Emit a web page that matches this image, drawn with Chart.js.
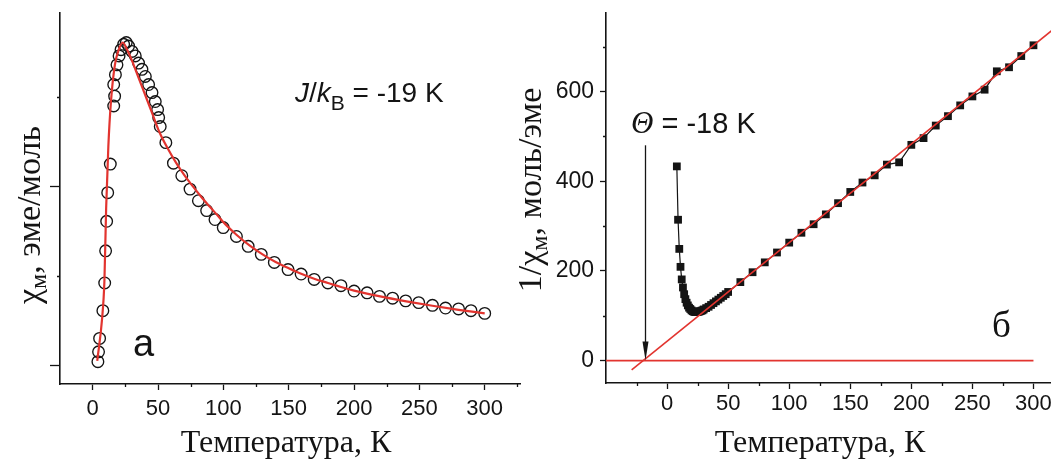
<!DOCTYPE html>
<html><head><meta charset="utf-8">
<script src="https://cdn.jsdelivr.net/npm/chart.js@4.4.1/dist/chart.umd.min.js"></script>
<style>
html,body{margin:0;padding:0;background:#fff;overflow:hidden;}
#wrap{position:relative;width:1051px;height:468px;overflow:hidden;background:#fff;}
#c1{position:absolute;left:0;top:0;width:540px;height:468px;}
#c2{position:absolute;left:500px;top:0;width:590px;height:468px;}
</style></head><body>
<div id="wrap"><canvas id="c1" width="540" height="468"></canvas><canvas id="c2" width="590" height="468"></canvas></div>
<script>
// ---------- Panel (а): chi_M vs T ----------
const chiT = [4.0, 4.5, 5.3, 7.8, 9.2, 9.9, 10.7, 11.5, 13.5, 16.1, 16.8, 16.1, 17.4, 18.6, 20.2, 21.7, 23.7, 25.7, 27.5, 30.1, 32.6, 35.1, 37.7, 40.3, 42.8, 45.4, 47.9, 49.7, 50.5, 51.7, 56, 61.8, 68.2, 74.5, 80.9, 87.2, 93.6, 99.9, 110, 119, 129, 139, 149.5, 159.5, 169.5, 180, 190, 200, 210, 219.5, 229.5, 239.5, 249.5, 260, 270, 280, 289.5, 300];
const chiV = [0.04, 0.15, 0.30, 0.61, 0.92, 1.28, 1.61, 1.93, 2.25, 2.90, 3.01, 3.14, 3.25, 3.36, 3.46, 3.53, 3.59, 3.61, 3.57, 3.51, 3.46, 3.38, 3.31, 3.23, 3.14, 3.05, 2.95, 2.86, 2.77, 2.67, 2.49, 2.26, 2.12, 1.97, 1.84, 1.73, 1.63, 1.54, 1.44, 1.33, 1.24, 1.15, 1.07, 1.02, 0.96, 0.92, 0.89, 0.83, 0.81, 0.77, 0.75, 0.72, 0.70, 0.67, 0.64, 0.63, 0.61, 0.58];
const fitT = [3.5, 7.2, 9.0, 10.3, 12.0, 14.0, 17.0, 20.0, 23.0, 26.0, 30.0, 35, 40, 45, 51.3, 58, 64, 70, 76.7, 83, 89.5, 95, 102, 110, 120, 130, 140, 150, 160, 170, 180, 190, 200, 220, 240, 260, 280, 300];
const fitV = [0.05, 0.52, 0.95, 1.75, 2.45, 2.95, 3.36, 3.53, 3.61, 3.54, 3.41, 3.22, 3.03, 2.84, 2.60, 2.41, 2.26, 2.13, 2.00, 1.885, 1.775, 1.685, 1.57, 1.46, 1.34, 1.24, 1.155, 1.085, 1.02, 0.965, 0.92, 0.875, 0.835, 0.77, 0.715, 0.665, 0.62, 0.58];
const xMajorA = [0, 50, 100, 150, 200, 250, 300];
const xMinorA = [25, 75, 125, 175, 225, 275, 325];
const yMajorA = [0, 2];
const yMinorA = [1, 3];

// ---------- Panel (б): 1/chi_M vs T ----------
const invT = [8, 9, 10, 11, 12, 13, 14, 15, 16, 17, 18, 19, 20, 21, 22, 23, 24, 25, 26, 27, 28, 29, 30, 32, 34, 36, 38, 40, 42, 44, 46, 48, 50, 60, 70, 80, 90, 100, 110, 120, 130, 140, 150, 160, 170, 180, 190, 200, 210, 220, 230, 240, 250, 260, 270, 280, 290, 300];
const invV = [433, 314, 249, 209, 181, 163, 148, 137, 129, 123, 118, 115, 112, 110, 109, 108, 108, 108, 109, 110, 111, 112, 114, 117, 120, 124, 128, 132, 136, 140, 144, 148, 153, 175, 197, 219, 241, 263, 285, 304, 326, 351, 376, 397, 413, 437, 442, 481, 496, 524, 545, 569, 589, 604, 645, 654, 679, 703];
const cwT = [-29, 325];
const cwV = [-20.9, 758];
const zeroT = [-50, 300];
const zeroV = [0, 0];
const theta = -18;
const arrowTopV = 480;
const xMajorB = [0, 50, 100, 150, 200, 250, 300];
const xMinorB = [-25, 25, 75, 125, 175, 225, 275, 325];
const yMajorB = [0, 200, 400, 600];
const yMinorB = [100, 300, 500, 700];

const RED = '#e2342f';
const INK = '#141414';
const SANS = '"Liberation Sans", Arial, sans-serif';
const SERIF = '"Liberation Serif", "Times New Roman", serif';

function pts(xs, ys) { return xs.map((x, i) => ({x: x, y: ys[i]})); }

function drawRich(ctx, parts, x, y, align, rot) {
  ctx.save();
  ctx.translate(x, y);
  if (rot) ctx.rotate(rot);
  let w = 0;
  for (const p of parts) { ctx.font = p.font; w += ctx.measureText(p.t).width; }
  let cx = align === 'center' ? -w / 2 : 0;
  ctx.textAlign = 'left';
  ctx.textBaseline = 'alphabetic';
  ctx.fillStyle = INK;
  for (const p of parts) { ctx.font = p.font; ctx.fillText(p.t, cx, p.dy || 0); cx += ctx.measureText(p.t).width; }
  ctx.restore();
}

function minorTicks(chart, id, vals, len) {
  const s = chart.scales[id], ctx = chart.ctx;
  ctx.save();
  ctx.strokeStyle = INK; ctx.lineWidth = 1.3;
  ctx.beginPath();
  for (const v of vals) {
    if (v < s.min || v > s.max) continue;
    const p = Math.round(s.getPixelForValue(v)) + 0.5;
    if (s.isHorizontal()) { ctx.moveTo(p, s.top); ctx.lineTo(p, s.top + len); }
    else { ctx.moveTo(s.right, p); ctx.lineTo(s.right - len, p); }
  }
  ctx.stroke();
  ctx.restore();
}

function axisX(min, max, major, height, pad) {
  return {
    type: 'linear', min: min, max: max,
    afterBuildTicks: s => { s.ticks = major.map(v => ({value: v})); },
    afterFit: s => { s.height = height; s.paddingLeft = 0; s.paddingRight = 0; },
    ticks: {autoSkip: false, maxRotation: 0, padding: pad, color: INK, font: {family: SANS, size: 22}},
    grid: {drawOnChartArea: false, drawTicks: true, tickLength: 6, tickColor: INK, tickWidth: 1.3},
    border: {display: true, color: INK, width: 1.6}
  };
}

const decoA = {
  id: 'decoA',
  afterDraw(chart) {
    const ctx = chart.ctx;
    minorTicks(chart, 'x', xMinorA, 3);
    minorTicks(chart, 'y', yMinorA, 3);
    drawRich(ctx, [
      {t: 'χ', font: '34px ' + SERIF},
      {t: 'м', font: '24px ' + SERIF, dy: 6},
      {t: ', эме/моль', font: '34px ' + SERIF}
    ], 40, 215, 'center', -Math.PI / 2);
    drawRich(ctx, [{t: 'Температура, К', font: '32px ' + SERIF}], 286, 452, 'center');
    drawRich(ctx, [
      {t: 'J', font: 'italic 28px ' + SANS},
      {t: '/', font: '28px ' + SANS},
      {t: 'k', font: 'italic 28px ' + SANS},
      {t: 'B', font: '21px ' + SANS, dy: 8},
      {t: ' = -19 K', font: '28px ' + SANS}
    ], 295, 102, 'left');
    drawRich(ctx, [{t: 'а', font: '38px ' + SANS}], 133, 356, 'left');
  }
};

const decoB = {
  id: 'decoB',
  afterDraw(chart) {
    const ctx = chart.ctx;
    const sx = chart.scales.x, sy = chart.scales.y;
    minorTicks(chart, 'x', xMinorB, 3);
    minorTicks(chart, 'y', yMinorB, 3);
    drawRich(ctx, [
      {t: '1/χ', font: '34px ' + SERIF},
      {t: 'м', font: '24px ' + SERIF, dy: 6},
      {t: ', моль/эме', font: '34px ' + SERIF}
    ], 41, 190, 'center', -Math.PI / 2);
    drawRich(ctx, [{t: 'Температура, К', font: '32px ' + SERIF}], 320, 452, 'center');
    drawRich(ctx, [
      {t: 'Θ', font: 'italic 31px ' + SERIF},
      {t: ' = -18 K', font: '29px ' + SANS}
    ], 131, 133, 'left');
    drawRich(ctx, [{t: 'б', font: '37px ' + SERIF}], 492, 337, 'left');
    // arrow marking theta
    const ax = Math.round(sx.getPixelForValue(theta)) + 0.5;
    const ay0 = sy.getPixelForValue(arrowTopV);
    const ay1 = sy.getPixelForValue(0);
    ctx.save();
    ctx.strokeStyle = INK; ctx.fillStyle = INK; ctx.lineWidth = 1.3;
    ctx.beginPath(); ctx.moveTo(ax, ay0); ctx.lineTo(ax, ay1 - 16); ctx.stroke();
    ctx.beginPath(); ctx.moveTo(ax - 3, ay1 - 19); ctx.lineTo(ax + 3, ay1 - 19); ctx.lineTo(ax, ay1); ctx.closePath(); ctx.fill();
    ctx.restore();
  }
};

new Chart(document.getElementById('c1'), {
  type: 'scatter',
  data: {datasets: [
    {label: 'fit', data: pts(fitT, fitV), showLine: true, borderColor: RED, borderWidth: 2.2, pointRadius: 0, cubicInterpolationMode: 'monotone', fill: false},
    {label: 'χM', data: pts(chiT, chiV), showLine: false, pointStyle: 'circle', pointRadius: 5.8, pointBorderWidth: 1.35, pointBorderColor: INK, pointBackgroundColor: 'rgba(255,255,255,0)'}
  ]},
  options: {
    responsive: false, animation: false, events: [],
    layout: {padding: {left: 0, right: 20, top: 13, bottom: 0}},
    plugins: {legend: {display: false}, tooltip: {enabled: false}},
    scales: {
      x: axisX(-25, 327, xMajorA, 84, 6),
      y: {
        type: 'linear', min: -0.21, max: 3.94,
        afterBuildTicks: s => { s.ticks = yMajorA.map(v => ({value: v})); },
        afterFit: s => { s.width = 60; s.paddingTop = 0; s.paddingBottom = 0; },
        ticks: {display: false},
        grid: {drawOnChartArea: false, drawTicks: true, tickLength: 10, tickColor: INK, tickWidth: 1.3},
        border: {display: true, color: INK, width: 1.6}
      }
    }
  },
  plugins: [decoA]
});

new Chart(document.getElementById('c2'), {
  type: 'scatter',
  data: {datasets: [
    {label: 'Curie-Weiss', data: pts(cwT, cwV), showLine: true, borderColor: RED, borderWidth: 1.6, pointRadius: 0, fill: false},
    {label: 'zero', data: pts(zeroT, zeroV), showLine: true, borderColor: RED, borderWidth: 1.6, pointRadius: 0, fill: false},
    {label: '1/χM', data: pts(invT, invV), showLine: true, borderColor: INK, borderWidth: 1.2, pointStyle: 'rect', pointRadius: 5.5, pointBorderWidth: 0, pointBackgroundColor: INK, pointBorderColor: INK, fill: false}
  ]},
  options: {
    responsive: false, animation: false, events: [],
    layout: {padding: {left: 0, right: 26, top: 13, bottom: 0}},
    plugins: {legend: {display: false}, tooltip: {enabled: false}},
    scales: {
      x: axisX(-50, 325, xMajorB, 85, 2),
      y: {
        type: 'linear', min: -50, max: 775,
        afterBuildTicks: s => { s.ticks = yMajorB.map(v => ({value: v})); },
        afterFit: s => { s.width = 106; s.paddingTop = 0; s.paddingBottom = 0; },
        ticks: {autoSkip: false, padding: 6, color: INK, font: {family: SANS, size: 23}},
        grid: {drawOnChartArea: false, drawTicks: true, tickLength: 6, tickColor: INK, tickWidth: 1.3},
        border: {display: true, color: INK, width: 1.6}
      }
    }
  },
  plugins: [decoB]
});
</script>
</body></html>
